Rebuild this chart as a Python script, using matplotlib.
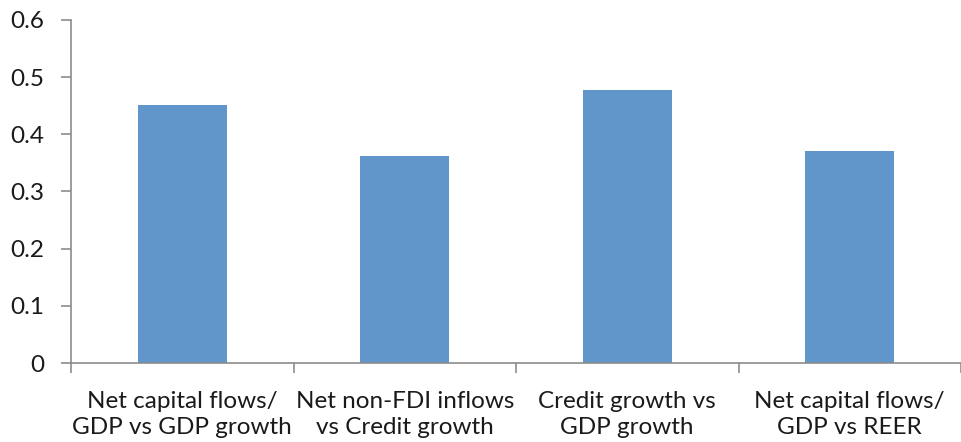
import matplotlib
matplotlib.use('Agg')
import matplotlib.pyplot as plt
import numpy as np

# values
categories = ['Net capital flows/\nGDP vs GDP growth',
              'Net non-FDI inflows\nvs Credit growth',
              'Credit growth vs\nGDP growth',
              'Net capital flows/\nGDP vs REER']
values = [0.451, 0.362, 0.478, 0.371]
y_ticks = [0, 0.1, 0.2, 0.3, 0.4, 0.5, 0.6]
y_tick_labels = ['0', '0.1', '0.2', '0.3', '0.4', '0.5', '0.6']

BAR_COLOR = '#6096c9'
AXIS_COLOR = '#8c8c8c'
TEXT_COLOR = '#1a1a1a'

plt.rcParams['font.family'] = ['Lato', 'DejaVu Sans']

W, H = 961, 442
fig = plt.figure(figsize=(W / 100, H / 100), dpi=100)
fig.patch.set_facecolor('white')

# axes: left spine at x=71px, zero at y=363px, 0.6 at y=20px, category width 225px
left, zero_y, top_y, cat_w = 71, 363, 20, 225
ax = fig.add_axes([left / W, (H - zero_y) / H, (W - left) / W, (zero_y - top_y) / H])

x = np.arange(len(categories))
ax.bar(x, values, width=0.4, color=BAR_COLOR, edgecolor='none', zorder=2)

ax.set_xlim(-0.5, -0.5 + (W - left) / cat_w)
ax.set_ylim(0, 0.6)

ax.set_yticks(y_ticks)
ax.set_yticklabels(y_tick_labels)
ax.set_xticks(x)
ax.set_xticklabels(categories)
ax.set_xticks(np.arange(-0.5, len(categories), 1.0), minor=True)

for side in ['top', 'right']:
    ax.spines[side].set_visible(False)
for side in ['left', 'bottom']:
    ax.spines[side].set_color(AXIS_COLOR)
    ax.spines[side].set_linewidth(1.2)

ax.tick_params(axis='y', direction='out', length=7, width=1.2, color=AXIS_COLOR,
               labelsize=17.5, labelcolor=TEXT_COLOR, pad=12)
ax.tick_params(axis='x', which='major', length=0, labelsize=17.5,
               labelcolor=TEXT_COLOR, pad=20)
ax.tick_params(axis='x', which='minor', direction='out', length=7, width=1.2,
               color=AXIS_COLOR)
for lbl in ax.get_xticklabels():
    lbl.set_multialignment('center')
    lbl.set_linespacing(1.32)

fig.savefig('out.png', dpi=100, facecolor='white')
